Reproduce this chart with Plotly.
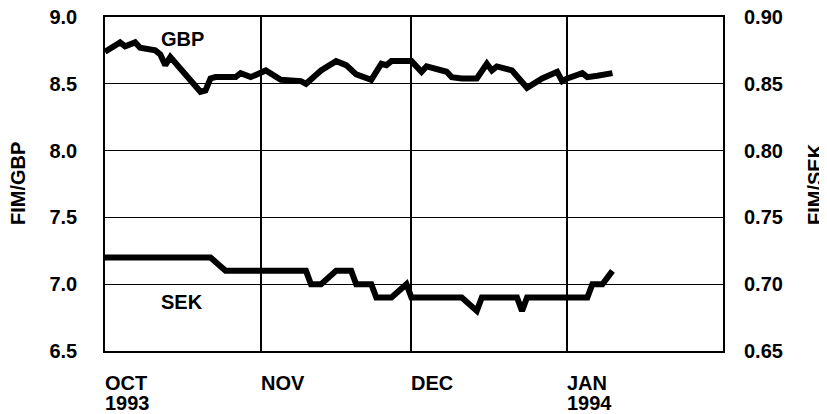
import plotly.graph_objects as go

gbp_dates = ["1993-10-01", "1993-10-04", "1993-10-05", "1993-10-07", "1993-10-08",
             "1993-10-11", "1993-10-12", "1993-10-13", "1993-10-14", "1993-10-20",
             "1993-10-21", "1993-10-22", "1993-10-23", "1993-10-27", "1993-10-28",
             "1993-10-30", "1993-11-02", "1993-11-04", "1993-11-05", "1993-11-09",
             "1993-11-10", "1993-11-13", "1993-11-16", "1993-11-18", "1993-11-20",
             "1993-11-23", "1993-11-25", "1993-11-26", "1993-11-27", "1993-12-01",
             "1993-12-03", "1993-12-04", "1993-12-08", "1993-12-09", "1993-12-11",
             "1993-12-14", "1993-12-16", "1993-12-17", "1993-12-18", "1993-12-21",
             "1993-12-24", "1993-12-27", "1993-12-30", "1993-12-31", "1994-01-01",
             "1994-01-04", "1994-01-05", "1994-01-07", "1994-01-10"]
gbp_values = [8.74, 8.81, 8.78, 8.81, 8.77,
              8.75, 8.72, 8.64, 8.70, 8.44,
              8.45, 8.54, 8.55, 8.55, 8.58,
              8.55, 8.60, 8.55, 8.53, 8.52,
              8.50, 8.60, 8.67, 8.64, 8.57,
              8.53, 8.65, 8.64, 8.67, 8.67,
              8.59, 8.63, 8.59, 8.55, 8.54,
              8.54, 8.65, 8.60, 8.63, 8.60,
              8.47, 8.54, 8.59, 8.52, 8.54,
              8.58, 8.55, 8.56, 8.58]

sek_dates = ["1993-10-01", "1993-10-22", "1993-10-25", "1993-11-10", "1993-11-11",
             "1993-11-13", "1993-11-16", "1993-11-19", "1993-11-20", "1993-11-23",
             "1993-11-24", "1993-11-27", "1993-11-30", "1993-12-01", "1993-12-11",
             "1993-12-14", "1993-12-15", "1993-12-22", "1993-12-23", "1993-12-24",
             "1994-01-05", "1994-01-06", "1994-01-08", "1994-01-10"]
sek_values = [0.72, 0.72, 0.71, 0.71, 0.70,
              0.70, 0.71, 0.71, 0.70, 0.70,
              0.69, 0.69, 0.70, 0.69, 0.69,
              0.68, 0.69, 0.69, 0.68, 0.69,
              0.69, 0.70, 0.70, 0.71]

month_dates = ["1993-10-01", "1993-11-01", "1993-12-01", "1994-01-01"]
month_labels = ["OCT", "NOV", "DEC", "JAN"]
year_labels = ["1993", "", "", "1994"]

left_ticks = [6.5, 7.0, 7.5, 8.0, 8.5, 9.0]
right_ticks = [0.65, 0.70, 0.75, 0.80, 0.85, 0.90]

FONT = "Liberation Sans, Arial, sans-serif"
FS = 20

fig = go.Figure()
fig.add_trace(go.Scatter(x=gbp_dates, y=gbp_values, mode="lines",
                         line=dict(color="black", width=6), yaxis="y"))
fig.add_trace(go.Scatter(x=sek_dates, y=sek_values, mode="lines",
                         line=dict(color="black", width=6), yaxis="y2"))

for d, m, yr in zip(month_dates, month_labels, year_labels):
    fig.add_annotation(x=d, xref="x", y=-0.0958, yref="paper", text="<b>" + m + "</b>",
                       showarrow=False, xanchor="left", yanchor="middle", xshift=-2,
                       font=dict(size=FS, family=FONT, color="black"))
    if yr:
        fig.add_annotation(x=d, xref="x", y=-0.1557, yref="paper", text="<b>" + yr + "</b>",
                           showarrow=False, xanchor="left", yanchor="middle", xshift=-2,
                           font=dict(size=FS, family=FONT, color="black"))

fig.add_annotation(x="1993-10-16 10:00", y=8.835, xref="x", yref="y", text="<b>GBP</b>",
                   showarrow=False, font=dict(size=FS, family=FONT, color="black"))
fig.add_annotation(x="1993-10-16 10:00", y=6.865, xref="x", yref="y", text="<b>SEK</b>",
                   showarrow=False, font=dict(size=FS, family=FONT, color="black"))

fig.add_annotation(x=0, xref="paper", y=0.5, yref="paper", text="<b>FIM/GBP</b>",
                   showarrow=False, textangle=-90, xanchor="center", yanchor="middle",
                   xshift=-87, font=dict(size=FS, family=FONT, color="black"))
fig.add_annotation(x=1, xref="paper", y=0.5, yref="paper", text="<b>FIM/SEK</b>",
                   showarrow=False, textangle=-90, xanchor="center", yanchor="middle",
                   xshift=92, font=dict(size=FS, family=FONT, color="black"))

# the page body adds an 8px offset on the left and top, so the figure is 8px smaller
fig.update_layout(
    width=819, height=406,
    margin=dict(l=97, r=104, t=9, b=63, autoexpand=False),
    paper_bgcolor="white", plot_bgcolor="white",
    showlegend=False,
    font=dict(family=FONT, size=FS, color="black"),
    xaxis=dict(range=["1993-10-01", "1994-02-01"], tickvals=month_dates,
               showticklabels=False, showgrid=True, gridcolor="black", gridwidth=1.5,
               showline=True, linecolor="black", linewidth=1.5, mirror=True,
               ticks="", zeroline=False, automargin=False),
    yaxis=dict(range=[6.5, 9.0], tickvals=left_ticks,
               ticktext=["<b>%.1f</b>" % v for v in left_ticks],
               showgrid=True, gridcolor="black", gridwidth=1,
               showline=True, linecolor="black", linewidth=1.5, mirror=True,
               ticks="", ticklabelstandoff=22, ticklabeloverflow="allow",
               zeroline=False, automargin=False),
    yaxis2=dict(range=[0.65, 0.90], tickvals=right_ticks,
                ticktext=["<b>%.2f</b>" % v for v in right_ticks],
                overlaying="y", side="right", showgrid=False,
                ticks="", ticklabelstandoff=20, ticklabeloverflow="allow",
                zeroline=False, automargin=False),
)

fig.write_html("out.html")
